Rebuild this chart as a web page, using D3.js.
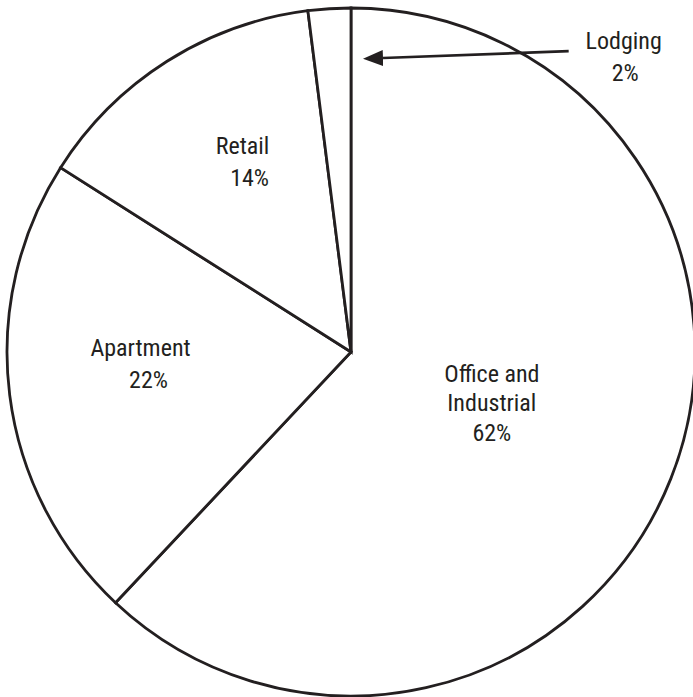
<!DOCTYPE html>
<html>
<head>
<meta charset="utf-8">
<script src="https://cdn.jsdelivr.net/npm/d3@7"></script>
<style>
  html, body { margin: 0; padding: 0; background: #fff; }
  svg { display: block; }
</style>
</head>
<body>
<div id="chart"></div>
<script>
// Pie data, clockwise from 12 o'clock
const categories = ["Office and Industrial", "Apartment", "Retail", "Lodging"];
const shares = [62, 22, 14, 2];
const labelLines = [["Office and", "Industrial", "62%"], ["Apartment", "22%"], ["Retail", "14%"], ["Lodging", "2%"]];

const width = 693, height = 697;
const cx = 351, cy = 352, radius = 344;
const ink = "#231f20";
const fontSize = 24;

// where each label's first baseline sits: [angle deg from top, distance from centre], plus lineheight and dx of last line
const labelSpot = {
  "Office and Industrial": {a: 102, r: 144, lh: 29.3, pctDx: 0},
  "Apartment": {a: 268.9, r: 210.5, lh: 32, pctDx: 8},
  "Retail": {a: 331.3, r: 225.8, lh: 32, pctDx: 7},
  "Lodging": {a: 42, r: 407.5, lh: 31.5, pctDx: 1.5}
};

const data = categories.map((c, i) => ({name: c, value: shares[i], lines: labelLines[i]}));

const svg = d3.select("#chart").append("svg")
    .attr("width", width)
    .attr("height", height)
    .attr("viewBox", [0, 0, width, height]);

// arrowhead: base sits on the line end, tip 20px further on
svg.append("defs").append("marker")
    .attr("id", "head")
    .attr("viewBox", "0 0 20 16")
    .attr("refX", 0)
    .attr("refY", 8)
    .attr("markerWidth", 20)
    .attr("markerHeight", 16)
    .attr("markerUnits", "userSpaceOnUse")
    .attr("orient", "auto")
  .append("path")
    .attr("d", "M0,0L20,8L0,16Z")
    .attr("fill", ink);

const pie = d3.pie().value(d => d.value).sort(null);
const arc = d3.arc().innerRadius(0).outerRadius(radius);

const g = svg.append("g").attr("transform", `translate(${cx},${cy})`);

g.selectAll("path.slice")
  .data(pie(data))
  .join("path")
    .attr("class", "slice")
    .attr("d", arc)
    .attr("fill", "#fff")
    .attr("stroke", ink)
    .attr("stroke-width", 2.8)
    .attr("stroke-linejoin", "miter");

const rad = deg => deg * Math.PI / 180;

const labels = g.selectAll("text.label")
  .data(data)
  .join("text")
    .attr("class", "label")
    .attr("font-family", "'Liberation Sans Narrow', 'Roboto Condensed', Roboto, sans-serif")
    .attr("font-size", fontSize)
    .attr("fill", ink)
    .attr("text-anchor", "middle");

labels.each(function(d) {
  const s = labelSpot[d.name];
  const [x, y] = d3.pointRadial(rad(s.a), s.r);
  d3.select(this).selectAll("tspan")
    .data(d.lines)
    .join("tspan")
      .attr("x", (t, i) => x + (i === d.lines.length - 1 ? s.pctDx : 0))
      .attr("y", (t, i) => y + i * s.lh)
      .text(t => t);
});

// callout arrow for the thin Lodging slice
const lodge = labelSpot["Lodging"];
const [lx, ly] = d3.pointRadial(rad(lodge.a), lodge.r);
const [tx, ty] = d3.pointRadial(0, 294);
g.append("line")
    .attr("x1", lx - 55)
    .attr("y1", ly + 2)
    .attr("x2", tx + 12 + 20)
    .attr("y2", ty)
    .attr("stroke", ink)
    .attr("stroke-width", 2.6)
    .attr("marker-end", "url(#head)");
</script>
</body>
</html>
